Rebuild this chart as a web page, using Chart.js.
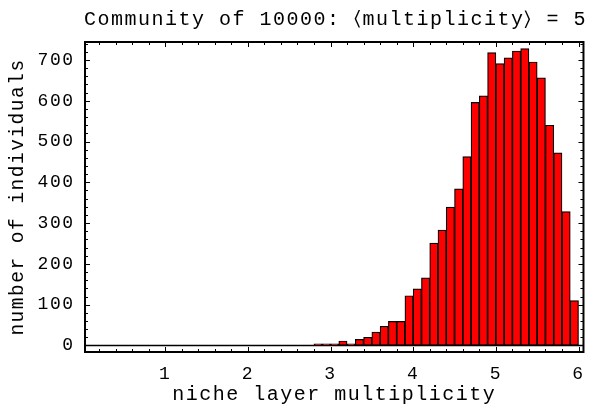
<!DOCTYPE html>
<html>
<head>
<meta charset="utf-8">
<script src="https://cdn.jsdelivr.net/npm/chart.js@4.4.1/dist/chart.umd.min.js"></script>
<style>
  html, body { margin: 0; padding: 0; background: #fff; }
  #wrap { width: 595px; height: 405px; }
</style>
</head>
<body>
<div id="wrap"><canvas id="niche-chart"></canvas></div>
<script>
// Histogram of niche layer multiplicity (bin width 0.1)
const binCenters = [2.85, 2.95, 3.05, 3.15, 3.25, 3.35, 3.45, 3.55, 3.65, 3.75, 3.85, 3.95,
                    4.05, 4.15, 4.25, 4.35, 4.45, 4.55, 4.65, 4.75, 4.85, 4.95,
                    5.05, 5.15, 5.25, 5.35, 5.45, 5.55, 5.65, 5.75, 5.85, 5.95];
const counts = [4, 4, 4, 11, 4, 15, 20, 33, 47, 59, 59, 122,
                139, 166, 251, 283, 339, 384, 463, 596, 612, 718,
                691, 705, 722, 728, 695, 656, 540, 472, 328, 110];
const xTickLabels = [1, 2, 3, 4, 5, 6];
const yTickLabels = [0, 100, 200, 300, 400, 500, 600, 700];

const monoFont = "'Liberation Mono', 'DejaVu Sans Mono', monospace";

// wide typewriter spacing for all the text
const spacingPlugin = {
    id: 'spacing',
    beforeDraw(chart) {
        chart.ctx.letterSpacing = '1.5px';
    }
};

// frame with inward ticks and the y = 0 axis line, like the original plot
const framePlugin = {
    id: 'frame',
    afterDatasetsDraw(chart) {
        const ctx = chart.ctx;
        const area = chart.chartArea;
        const x = chart.scales.x;
        const y = chart.scales.y;
        ctx.save();
        ctx.strokeStyle = '#000';

        // axis at zero
        ctx.lineWidth = 1.5;
        ctx.beginPath();
        ctx.moveTo(area.left, y.getPixelForValue(0));
        ctx.lineTo(area.right, y.getPixelForValue(0));
        ctx.stroke();

        ctx.lineWidth = 1;
        ctx.beginPath();
        for (let i = 1; i <= 30; i++) {
            const px = Math.round(x.getPixelForValue(i * 0.2)) + 0.5;
            const len = i % 5 === 0 ? 5 : 3;
            ctx.moveTo(px, area.bottom);
            ctx.lineTo(px, area.bottom - len);
            ctx.moveTo(px, area.top);
            ctx.lineTo(px, area.top + len);
        }
        for (let v = 0; v <= 740; v += 20) {
            const py = Math.round(y.getPixelForValue(v)) + 0.5;
            const len = v % 100 === 0 ? 5 : 3;
            ctx.moveTo(area.left, py);
            ctx.lineTo(area.left + len, py);
            ctx.moveTo(area.right, py);
            ctx.lineTo(area.right - len, py);
        }
        ctx.stroke();

        ctx.lineWidth = 2;
        ctx.strokeRect(area.left, area.top, area.right - area.left, area.bottom - area.top);
        ctx.restore();
    }
};

const ctx = document.getElementById('niche-chart').getContext('2d');
const nicheChart = new Chart(ctx, {
    type: 'bar',
    data: {
        datasets: [
            {
                data: binCenters.map((c, i) => ({ x: c, y: counts[i] })),
                backgroundColor: '#ff0000',
                borderColor: '#000000',
                borderWidth: 1.2,
                borderSkipped: false,
                barPercentage: 1,
                categoryPercentage: 1,
            },
        ],
    },
    plugins: [spacingPlugin, framePlugin],
    options: {
        responsive: true,
        maintainAspectRatio: false,
        animation: false,
        layout: { padding: { left: 0, right: 8, top: 0, bottom: 0 } },
        plugins: {
            legend: { display: false },
            tooltip: { enabled: false },
            title: {
                display: true,
                align: 'end',
                text: 'Community of 10000: \u2329multiplicity\u232A = 5',
                color: '#000',
                font: { family: monoFont, size: 20, weight: 'normal', lineHeight: 1.2 },
                padding: { top: 8, bottom: 10 },
            },
        },
        scales: {
            x: {
                type: 'linear',
                offset: false,
                min: 0.03,
                max: 6.06,
                grid: { display: false, drawTicks: false },
                border: { display: false },
                afterBuildTicks: (scale) => { scale.ticks = xTickLabels.map(v => ({ value: v })); },
                afterFit: (scale) => { scale.height = 53; },
                ticks: {
                    color: '#000',
                    padding: 11,
                    maxRotation: 0,
                    font: { family: monoFont, size: 18 },
                },
                title: {
                    display: true,
                    text: 'niche layer multiplicity',
                    color: '#000',
                    font: { family: monoFont, size: 20, lineHeight: 1.0 },
                    padding: { top: 0, bottom: 0 },
                },
            },
            y: {
                min: -16,
                max: 744,
                grid: { display: false, drawTicks: false },
                border: { display: false },
                afterBuildTicks: (scale) => { scale.ticks = yTickLabels.map(v => ({ value: v })); },
                afterFit: (scale) => { scale.width = 85; },
                ticks: {
                    color: '#000',
                    padding: 10.5,
                    font: { family: monoFont, size: 18 },
                },
                title: {
                    display: true,
                    text: 'number of individuals',
                    color: '#000',
                    font: { family: monoFont, size: 19.5 },
                    padding: { top: 6, bottom: 0 },
                },
            },
        },
    },
});
</script>
</body>
</html>
